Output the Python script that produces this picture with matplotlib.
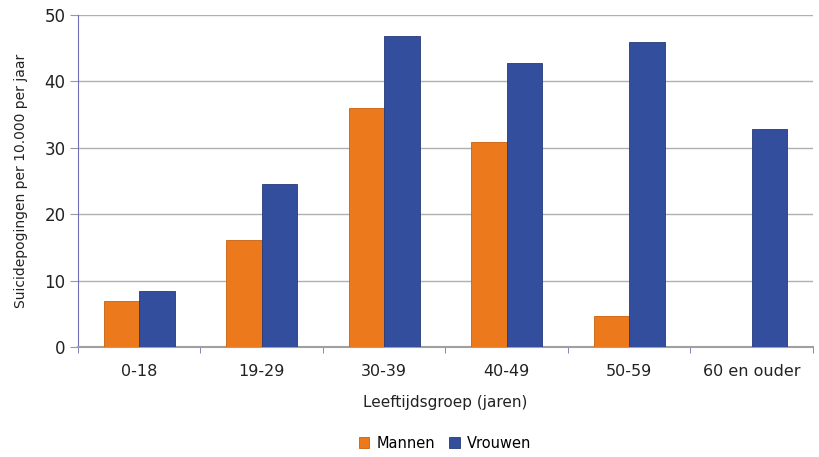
import numpy as np
import matplotlib
matplotlib.use("Agg")
import matplotlib.pyplot as plt

categories = ["0-18", "19-29", "30-39", "40-49", "50-59", "60 en ouder"]
mannen = [7.0, 16.1, 36.0, 30.9, 4.6, 0.0]
vrouwen = [8.5, 24.5, 46.9, 42.8, 45.9, 32.9]
yticks = [0, 10, 20, 30, 40, 50]

c_man = "#EC7A1C"
c_vrouw = "#334E9C"

plt.rcParams["font.family"] = ["DejaVu Sans"]

fig = plt.figure(figsize=(8.2, 4.57), dpi=100)
ax = fig.add_axes([78 / 820, 1 - 347 / 457, 735 / 820, 332 / 457])

x = np.arange(len(categories))
w = 0.29
ax.bar(x - w / 2, mannen, w, color=c_man, edgecolor="#C8600F", linewidth=0.6, label="Mannen", zorder=3)
ax.bar(x + w / 2, vrouwen, w, color=c_vrouw, edgecolor="#26397A", linewidth=0.6, label="Vrouwen", zorder=3)

ax.set_xlim(-0.5, len(categories) - 0.5)
ax.set_ylim(0, 50)
ax.set_yticks(yticks)
ax.tick_params(axis="y", labelsize=12, length=6, color="#999999", pad=3, labelcolor="#222222")
ax.yaxis.grid(True, color="#B0B0B0", linewidth=1, zorder=0)

ax.set_xticks(x)
ax.set_xticklabels(categories, fontsize=11.5, color="#222222")
ax.tick_params(axis="x", length=0, pad=12)
ax.set_xticks(np.arange(len(categories) + 1) - 0.5, minor=True)
ax.tick_params(axis="x", which="minor", length=4, color="#7070B0")

for s in ["top", "right"]:
    ax.spines[s].set_visible(False)
ax.spines["left"].set_color("#7070B8")
ax.spines["bottom"].set_color("#A0A0A0")
ax.spines["bottom"].set_linewidth(1.5)

ax.set_ylabel("Suicidepogingen per 10.000 per jaar", fontsize=10, labelpad=12, color="#222222")
ax.set_xlabel("Leeftijdsgroep (jaren)", fontsize=11, labelpad=12, color="#222222")

fig.legend(loc="center", bbox_to_anchor=(445 / 820, 1 - 443 / 457), ncol=2, frameon=False,
           fontsize=10.5, handlelength=0.7, handleheight=0.7, columnspacing=1.0, handletextpad=0.5)

fig.savefig("out.png", dpi=100)
